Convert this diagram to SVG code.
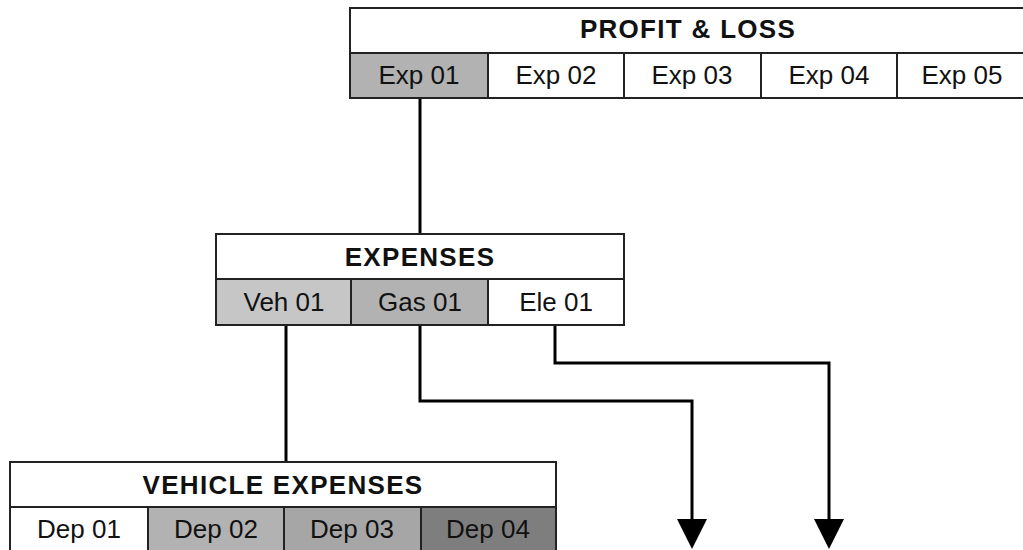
<svg xmlns="http://www.w3.org/2000/svg" width="1023" height="550" viewBox="0 0 1023 550">
  <defs>
    <style>
      .box { stroke: #222; stroke-width: 2; fill: #fff; }
      .cell { stroke: #222; stroke-width: 2; }
      .title { font-family: "Liberation Sans", Arial, sans-serif; font-size: 26px; font-weight: bold; fill: #111; text-anchor: middle; letter-spacing: 1.3px; }
      .lbl { font-family: "Liberation Sans", Arial, sans-serif; font-size: 26px; fill: #111; text-anchor: middle; }
      .wire { stroke: #000; stroke-width: 3; fill: none; }
      .w { fill: #fff; }
      .g1 { fill: #c6c6c6; }
      .g2 { fill: #b2b2b2; }
      .g3 { fill: #a6a6a6; }
      .g4 { fill: #7e7e7e; }
    </style>
  </defs>
  <rect width="1023" height="550" fill="#fff"/>

  <g id="connectors">
    <line class="wire" x1="420" y1="98" x2="420" y2="234"/>
    <line class="wire" x1="286" y1="325" x2="286" y2="462"/>
    <polyline class="wire" points="420,325 420,401 692,401 692,520"/>
    <polyline class="wire" points="555,325 555,363 829,363 829,520"/>
    <path d="M677,519 L707,519 L692,549 Z" fill="#000"/>
    <path d="M814,519 L844,519 L829,549 Z" fill="#000"/>
  </g>

  <g id="profit-loss">
    <rect class="box" x="350" y="8" width="680" height="45"/>
    <text class="title" x="688" y="38">PROFIT &amp; LOSS</text>
    <rect class="cell g2" x="350" y="53" width="138" height="45"/>
    <rect class="cell w" x="488" y="53" width="136" height="45"/>
    <rect class="cell w" x="624" y="53" width="137" height="45"/>
    <rect class="cell w" x="761" y="53" width="136" height="45"/>
    <rect class="cell w" x="897" y="53" width="133" height="45"/>
    <text class="lbl" x="419" y="84">Exp 01</text>
    <text class="lbl" x="556" y="84">Exp 02</text>
    <text class="lbl" x="692" y="84">Exp 03</text>
    <text class="lbl" x="829" y="84">Exp 04</text>
    <text class="lbl" x="962" y="84">Exp 05</text>
  </g>

  <g id="expenses">
    <rect class="box" x="216" y="234" width="408" height="45"/>
    <text class="title" x="420" y="266">EXPENSES</text>
    <rect class="cell g1" x="216" y="279" width="135" height="46"/>
    <rect class="cell g2" x="351" y="279" width="137" height="46"/>
    <rect class="cell w" x="488" y="279" width="136" height="46"/>
    <text class="lbl" x="284" y="311">Veh 01</text>
    <text class="lbl" x="420" y="311">Gas 01</text>
    <text class="lbl" x="556" y="311">Ele 01</text>
  </g>

  <g id="vehicle-expenses">
    <rect class="box" x="10" y="462" width="546" height="45"/>
    <text class="title" x="283" y="494">VEHICLE EXPENSES</text>
    <rect class="cell w" x="10" y="507" width="138" height="46"/>
    <rect class="cell g2" x="148" y="507" width="136" height="46"/>
    <rect class="cell g3" x="284" y="507" width="137" height="46"/>
    <rect class="cell g4" x="421" y="507" width="135" height="46"/>
    <text class="lbl" x="79" y="538">Dep 01</text>
    <text class="lbl" x="216" y="538">Dep 02</text>
    <text class="lbl" x="352" y="538">Dep 03</text>
    <text class="lbl" x="488" y="538">Dep 04</text>
  </g>
</svg>
